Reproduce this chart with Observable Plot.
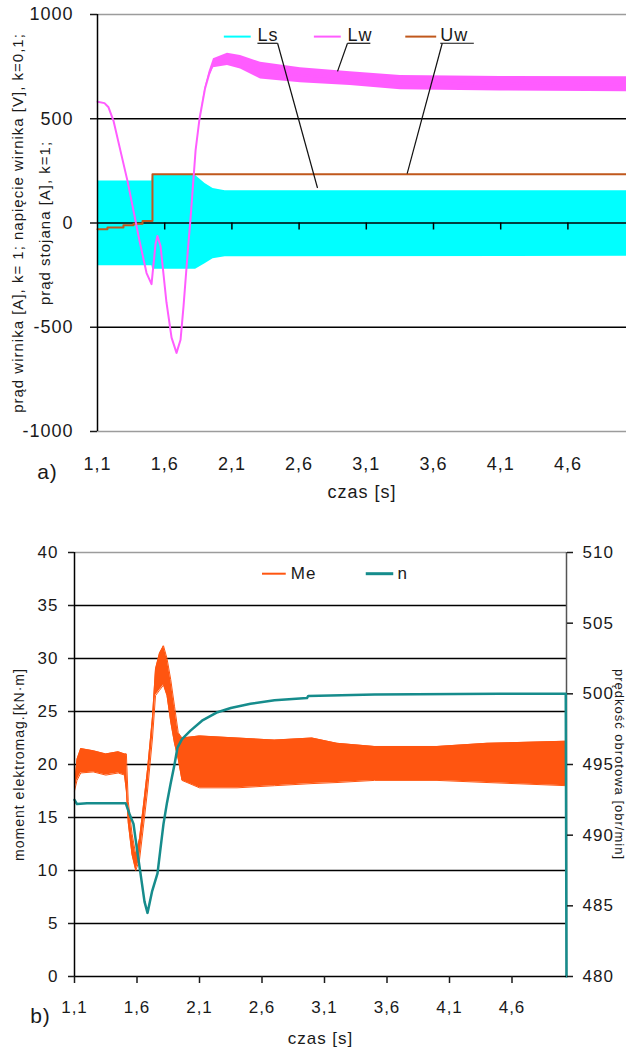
<!DOCTYPE html>
<html><head><meta charset="utf-8">
<script src="https://cdn.jsdelivr.net/npm/d3@7"></script>
<script src="https://cdn.jsdelivr.net/npm/@observablehq/plot@0.6"></script>
<style>
html,body{margin:0;padding:0;background:#fff;}
body{width:626px;height:1053px;overflow:hidden;}
#chart svg{display:block;}
</style></head>
<body><div id="chart"></div>
<script>
// ---------------- data ----------------
const xTicks = [1.1, 1.6, 2.1, 2.6, 3.1, 3.6, 4.1, 4.6];
const tMin = 1.1, tMax = 5.036;

// (a) top chart
const topYTicks = [-1000, -500, 0, 500, 1000];
const lsTime = [1.10, 1.505, 1.51, 1.83, 1.90, 1.96, 2.05, 5.036];
const lsLow  = [-205, -205, -222, -222, -195, -172, -162, -160];
const lsHigh = [202, 202, 228, 228, 190, 165, 155, 155];

const lwTime = [1.10,1.152,1.182,1.219,1.271,1.323,1.368,1.413,1.465,1.502,1.532,1.546,1.569,1.613,1.651,1.688,1.718,1.74,1.77,1.792,1.83,1.859,1.90,1.93,1.963,2.067,2.164,2.313,2.61,2.98,3.354,4.1,5.036];
const lwLow  = [582,575,555,490,346,202,58,-87,-240,-293,-100,-62,-110,-380,-550,-623,-560,-400,-150,20,350,500,640,700,745,755,739,691,673,660,639,633,630];
const lwHigh = [582,575,555,490,346,202,58,-87,-240,-293,-100,-62,-110,-380,-550,-623,-560,-400,-150,20,350,500,650,725,788,814,803,771,745,725,707,703,702];

const uwTime  = [1.1, 1.174, 1.293, 1.368, 1.435, 1.509, 5.036];
const uwValue = [-30, -22, -11, -3, 10, 234, 234];

const topSeries = ["Ls", "Lw", "Uw"];

// (b) bottom chart
const botYTicks = [0, 5, 10, 15, 20, 25, 30, 35, 40];
const rightTicks = [480, 485, 490, 495, 500, 505, 510];
const meTime = [1.10,1.12,1.15,1.25,1.35,1.45,1.50,1.515,1.53,1.56,1.59,1.62,1.65,1.684,1.724,1.748,1.78,1.812,1.84,1.87,1.90,1.93,1.96,2.1,2.4,2.7,3.0,3.2,3.5,4.0,4.4,5.036];
const meLow  = [17.5,18.5,19.2,19.3,19.0,19.2,19.0,17.5,14.5,11.5,10.0,11.0,14.0,17.5,22.5,26.5,27.0,27.5,26.5,24.0,22.0,20.5,18.5,17.8,17.8,18.0,18.2,18.3,18.5,18.5,18.3,18.0];
const meHigh = [18.0,20.5,21.5,21.3,21.0,21.2,21.0,21.0,16.5,13.5,11.5,13.0,16.0,19.5,24.5,29.0,30.5,31.2,30.0,28.0,25.5,23.0,22.5,22.7,22.5,22.3,22.5,22.0,21.7,21.7,22.0,22.2];

const nTime  = [1.10,1.12,1.20,1.51,1.54,1.572,1.60,1.628,1.66,1.684,1.72,1.764,1.79,1.812,1.84,1.868,1.90,1.924,1.96,2.028,2.12,2.244,2.35,2.508,2.7,2.96,2.97,3.5,4.5,5.03,5.036];
const nValue = [492.5,492.2,492.25,492.25,491.5,490.8,489.0,487.3,485.3,484.5,486.0,487.3,489.2,490.8,492.3,493.6,495.0,496.2,496.8,497.4,498.1,498.7,499.0,499.3,499.55,499.7,499.85,499.95,500.0,500.0,480.0];

const botSeries = ["Me", "n"];

// ---------------- annotation layout (data units) ----------------
const topLegend = [
  {name: "Ls", sw: [2.04, 2.24], txt: 2.29, ul: [2.29, 2.44], lead: [2.44, 2.737, 168]},
  {name: "Lw", sw: [2.71, 2.91], txt: 2.96, ul: [2.96, 3.13], lead: [2.96, 2.886, 727]},
  {name: "Uw", sw: [3.39, 3.62], txt: 3.65, ul: [3.65, 3.90], lead: [3.665, 3.404, 237]}
];
const topLegendY = 894, topTextY = 899, topUnderlineY = 862;
const botLegend = [
  {name: "Me", sw: [2.60, 2.79], txt: 2.83},
  {name: "n",  sw: [3.43, 3.65], txt: 3.684}
];
const botLegendY = 38;

// ---------------- styles ----------------
const FONT = "'Liberation Sans', Arial, Helvetica, sans-serif";
const C = {Ls: "#00ffff", Lw: "#ff5cff", Uw: "#c0581c", Me: "#ff5510", n: "#168c8c"};
const fmtComma = d => d.toFixed(1).replace(".", ",");
const tickLenTop = 7 * 2000 / 417;
const leftFromN = n => (n - 480) * 40 / 30;

// ---------------- top chart ----------------
const topMarks = [
  Plot.areaY(lsTime, {x: lsTime, y1: lsLow, y2: lsHigh, fill: C.Ls, curve: "linear"}),
  Plot.ruleY([1000, -1000], {stroke: "#9c9c9c", strokeWidth: 1.5}),
  Plot.ruleY([500, 0, -500], {stroke: "#000", strokeWidth: 1.3}),
  Plot.ruleX(xTicks.slice(1), {x: d => d, y1: 0, y2: -tickLenTop, stroke: "#000", strokeWidth: 1.5}),
  Plot.line(uwTime, {x: uwTime, y: uwValue, curve: "step-after", stroke: C.Uw, strokeWidth: 2}),
  Plot.areaY(lwTime, {x: lwTime, y1: lwLow, y2: lwHigh, fill: C.Lw}),
  Plot.line(lwTime, {x: lwTime, y: lwTime.map((_, i) => (lwLow[i] + lwHigh[i]) / 2), stroke: C.Lw, strokeWidth: 2}),
  Plot.ruleX([tMin], {stroke: "#000", strokeWidth: 1.5}),
  Plot.axisY(topYTicks, {tickSize: 7, tickPadding: 17, tickFormat: d => String(d), strokeWidth: 1.5}),
  Plot.axisX(xTicks, {tickSize: 0, tickPadding: 26, tickFormat: fmtComma}),
  Plot.text(["czas [s]"], {text: d => d, frameAnchor: "bottom", dy: 66, fontSize: 18}),
  Plot.text(["a)"], {text: d => d, frameAnchor: "bottom-left", textAnchor: "middle", dx: -50, dy: 47, fontSize: 21}),
  Plot.text(["prąd wirnika [A], k= 1; napięcie wirnika [V], k=0,1;"], {text: d => d, frameAnchor: "left", textAnchor: "middle", rotate: -90, dx: -79, fontSize: 15, ariaLabel: "ytitle1"}),
  Plot.text(["prąd stojana [A], k=1;"], {text: d => d, frameAnchor: "left", textAnchor: "middle", rotate: -90, dx: -52, fontSize: 15, ariaLabel: "ytitle2"})
];
topLegend.forEach((L, i) => {
  topMarks.push(
    Plot.link([L], {x1: d => d.sw[0], x2: d => d.sw[1], y1: topLegendY, y2: topLegendY, stroke: C[topSeries[i]], strokeWidth: 2}),
    Plot.link([L], {x1: d => d.ul[0], x2: d => d.ul[1], y1: topUnderlineY, y2: topUnderlineY, stroke: "#111", strokeWidth: 1.2}),
    Plot.link([L], {x1: d => d.lead[0], y1: topUnderlineY, x2: d => d.lead[1], y2: d => d.lead[2], stroke: "#111", strokeWidth: 1.2}),
    Plot.text([L], {x: d => d.txt, y: topTextY, text: d => d.name, textAnchor: "start", fontSize: 18})
  );
});

const topPlot = Plot.plot({
  width: 626, height: 520,
  marginTop: 14, marginBottom: 89, marginLeft: 97, marginRight: 0,
  x: {domain: [tMin, tMax]},
  y: {domain: [-1000, 1000]},
  style: {fontFamily: FONT, fontSize: "18px", color: "#1a1a1a", background: "#fff", letterSpacing: "1px"},
  marks: topMarks
});

// ---------------- bottom chart ----------------
const botMarks = [
  Plot.ruleY(botYTicks.filter(d => d > 0 && d < 40), {stroke: "#000", strokeWidth: 1.3}),
  Plot.ruleY([40], {stroke: "#9c9c9c", strokeWidth: 1.5}),
  Plot.areaY(meTime, {x: meTime, y1: meLow, y2: meHigh, fill: C.Me}),
  Plot.line(meTime, {x: meTime, y: meLow, stroke: C.Me, strokeWidth: 1}),
  Plot.line(meTime, {x: meTime, y: meHigh, stroke: C.Me, strokeWidth: 1}),
  Plot.ruleX([tMax], {stroke: "#555", strokeWidth: 1.5}),
  Plot.line(nTime, {x: nTime, y: nValue.map(leftFromN), stroke: C.n, strokeWidth: 2.5}),
  Plot.ruleX([tMin], {stroke: "#000", strokeWidth: 1.5}),
  Plot.ruleY([0], {stroke: "#000", strokeWidth: 1.5}),
  Plot.axisY(botYTicks, {tickSize: 6, tickPadding: 10, tickFormat: d => String(d), strokeWidth: 1.5}),
  Plot.axisY(rightTicks.map(leftFromN), {anchor: "right", tickSize: 6, tickPadding: 10, tickFormat: d => String(Math.round(480 + d * 30 / 40)), strokeWidth: 1.5}),
  Plot.axisX(xTicks, {tickSize: 7, tickPadding: 17, tickFormat: fmtComma, strokeWidth: 1.5}),
  Plot.text(["czas [s]"], {text: d => d, frameAnchor: "bottom", dy: 67, fontSize: 17}),
  Plot.text(["b)"], {text: d => d, frameAnchor: "bottom-left", textAnchor: "middle", dx: -34, dy: 46, fontSize: 21}),
  Plot.text(["moment elektromag.[kN·m]"], {text: d => d, frameAnchor: "left", textAnchor: "middle", rotate: -90, dx: -55, fontSize: 14, ariaLabel: "ytitleL"}),
  Plot.text(["prędkość obrotowa [obr/min]"], {text: d => d, frameAnchor: "right", textAnchor: "middle", rotate: 90, dx: 53, fontSize: 13, ariaLabel: "ytitleR"})
];
botLegend.forEach((L, i) => {
  botMarks.push(
    Plot.link([L], {x1: d => d.sw[0], x2: d => d.sw[1], y1: botLegendY, y2: botLegendY, stroke: C[botSeries[i]], strokeWidth: i ? 3 : 2}),
    Plot.text([L], {x: d => d.txt, y: botLegendY, text: d => d.name, textAnchor: "start", fontSize: 17})
  );
});

const botPlot = Plot.plot({
  width: 626, height: 533,
  marginTop: 32, marginBottom: 77, marginLeft: 74, marginRight: 60,
  x: {domain: [tMin, tMax]},
  y: {domain: [0, 40]},
  style: {fontFamily: FONT, fontSize: "17px", color: "#1a1a1a", background: "#fff", letterSpacing: "1px"},
  marks: botMarks
});

const host = document.getElementById("chart");
host.append(topPlot, botPlot);

// stretch rotated titles to the reference lengths
const stretch = (svg, label, len) => {
  d3.select(svg).selectAll(`g[aria-label="${label}"] text`).attr("textLength", len).attr("lengthAdjust", "spacing");
};
stretch(topPlot, "ytitle1", 400);
stretch(topPlot, "ytitle2", 150);
stretch(botPlot, "ytitleL", 225);
stretch(botPlot, "ytitleR", 242);
</script>
</body></html>
